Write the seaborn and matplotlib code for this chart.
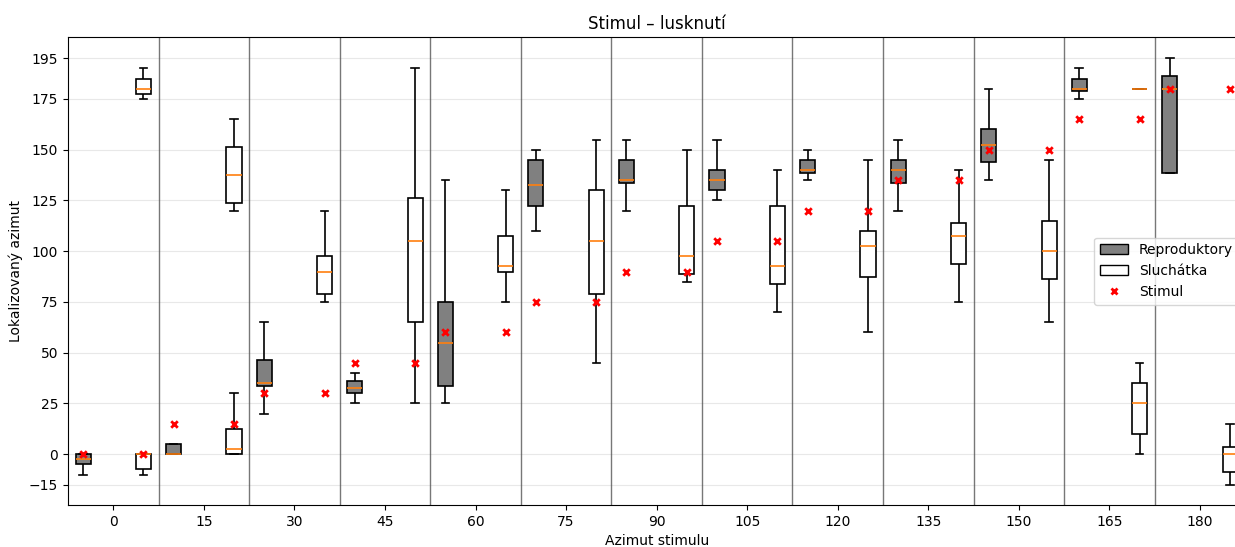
import matplotlib
matplotlib.use("Agg")
import matplotlib.pyplot as plt
from matplotlib.patches import Patch
from matplotlib.lines import Line2D
import numpy as np
import pandas as pd
import seaborn as sns

# Stimulus azimuths (degrees)
angles = [0, 15, 30, 45, 60, 75, 90, 105, 120, 135, 150, 165, 180]

# Localized azimuths per stimulus: min, Q1, median, Q3, max
repro = [
    [-10, -5, -2.5, 0, 0],
    [0, 0, 0, 5, 5],
    [20, 33.75, 35, 46.25, 65],
    [25, 30, 32.5, 36.25, 40],
    [25, 33.75, 55, 75, 135],
    [110, 122.5, 132.5, 145, 150],
    [120, 133.75, 135, 145, 155],
    [125, 130, 135, 140, 155],
    [135, 138.75, 140, 145, 150],
    [120, 133.75, 140, 145, 155],
    [135, 143.75, 152.5, 160, 180],
    [175, 178.75, 180, 185, 190],
    [138.75, 138.75, 180, 186.25, 195],
]

sluch = [
    [175, 177.5, 180, 185, 190],
    [120, 123.75, 137.5, 151.25, 165],
    [75, 78.75, 90, 97.5, 120],
    [25, 65, 105, 126.25, 190],
    [75, 90, 92.5, 107.5, 130],
    [45, 78.75, 105, 130, 155],
    [85, 88.75, 97.5, 122.5, 150],
    [70, 83.75, 92.5, 122.5, 140],
    [60, 87.5, 102.5, 110, 145],
    [75, 93.75, 107.5, 113.75, 140],
    [65, 86.25, 100, 115, 145],
    [0, 10, 25, 35, 45],
    [-15, -8.75, 0, 3.75, 15],
]

# Second response cluster (front/back confusions) for headphones
sluch_extra_angles = [0, 15, 165]
sluch_extra = [
    [-10, -7.5, 0, 0, 0],
    [0, 0, 2.5, 12.5, 30],
    [180, 180, 180, 180, 180],
]

yticks = [-15, 0, 25, 50, 75, 100, 125, 150, 175, 195]

offset = 5  # shift of each system from the stimulus azimuth

rows = []
for a, vals in zip(angles, repro):
    rows += [(a - offset, v, "Reproduktory") for v in vals]
for a, vals in zip(angles, sluch):
    rows += [(a + offset, v, "Sluchátka") for v in vals]
for a, vals in zip(sluch_extra_angles, sluch_extra):
    rows += [(a + offset, v, "Sluchátka 2") for v in vals]
df = pd.DataFrame(rows, columns=["pozice", "azimut", "system"])

stim = pd.DataFrame({
    "pozice": [a - offset for a in angles] + [a + offset for a in angles],
    "azimut": angles + angles,
})

fig = plt.figure(figsize=(12.35, 5.47), dpi=100)
ax = fig.add_axes([68 / 1235, 42 / 547, 1177.3 / 1235, 468 / 547])

ax.yaxis.grid(True, color="#e8e8e8", linewidth=0.8, zorder=0)
ax.set_axisbelow(True)

sns.boxplot(
    data=df, x="pozice", y="azimut", hue="system",
    hue_order=["Reproduktory", "Sluchátka", "Sluchátka 2"],
    palette={"Reproduktory": "grey", "Sluchátka": "white", "Sluchátka 2": "white"},
    native_scale=True, dodge=False, width=0.5, whis=(0, 100),
    saturation=1, linecolor="black", linewidth=1.2,
    medianprops={"color": "C1", "linewidth": 1.2},
    legend=False, ax=ax,
)

sns.scatterplot(
    data=stim, x="pozice", y="azimut", marker="x", color="red",
    s=22, linewidth=2, ax=ax, zorder=4, legend=False,
)

# Group separators halfway between stimulus azimuths
for left, right in zip(angles[:-1], angles[1:]):
    ax.axvline((left + right) / 2, color="#555555", linewidth=1.0, alpha=0.8, zorder=1)

ax.set_xlim(angles[0] - 7.5, angles[-1] + 7.5)
ax.set_ylim(-25, 205.5)
ax.set_xticks(angles)
ax.set_xticklabels([str(a) for a in angles])
ax.set_yticks(yticks)
ax.set_xlabel("Azimut stimulu")
ax.set_ylabel("Lokalizovaný azimut")
ax.set_title("Stimul – lusknutí")

handles = [
    Patch(facecolor="grey", edgecolor="black", label="Reproduktory"),
    Patch(facecolor="white", edgecolor="black", label="Sluchátka"),
    Line2D([], [], marker="x", color="red", linestyle="None",
           markersize=5, markeredgewidth=2, label="Stimul"),
]
ax.legend(handles=handles, loc="center right")

fig.savefig("out.png", dpi=100)
